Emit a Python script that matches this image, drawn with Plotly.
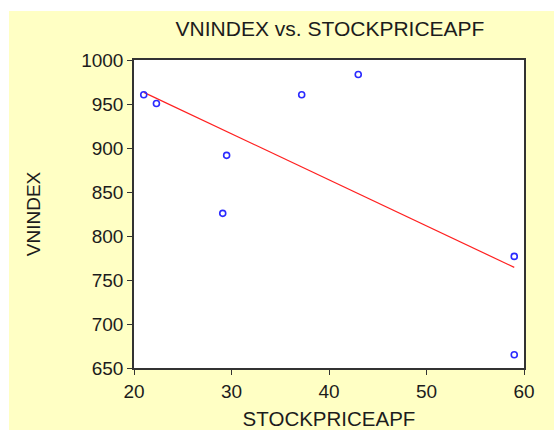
import numpy as np
import plotly.graph_objects as go

# Observations: APF stock price vs. VN-Index
stock_price_apf = [21.0, 22.3, 29.5, 29.1, 37.2, 43.0, 59.0, 59.0]
vnindex = [961, 951, 892, 826, 961, 984, 777, 665]

x_ticks = [20, 30, 40, 50, 60]
y_ticks = [650, 700, 750, 800, 850, 900, 950, 1000]

# Least-squares fit line across the observed x span
slope, intercept = np.polyfit(stock_price_apf, vnindex, 1)
fit_x = [min(stock_price_apf), max(stock_price_apf)]
fit_y = [slope * v + intercept for v in fit_x]

W, H = 554, 430
ML, MR, MT, MB = 134, 30, 60, 62
BG = "#FFFFC4"
INK = "#1c1c1c"
FONT = "Liberation Sans, Arial, sans-serif"

fig = go.Figure()
fig.add_trace(go.Scatter(
    x=fit_x, y=fit_y, mode="lines",
    line=dict(color="#FF2020", width=1.2),
    hoverinfo="skip", showlegend=False,
))
fig.add_trace(go.Scatter(
    x=stock_price_apf, y=vnindex, mode="markers",
    marker=dict(symbol="circle-open", size=6, color="#2A2AFF",
                line=dict(width=1.6, color="#2A2AFF")),
    showlegend=False,
))

# white strips along the top and left edges of the page
pw = W - ML - MR
ph = H - MT - MB
left_px, top_px = 9, 11
x0 = -ML / pw
x_left = (left_px - ML) / pw
y_top = 1 + MT / ph
y_strip = 1 + (MT - top_px) / ph
fig.add_shape(type="rect", xref="paper", yref="paper",
              x0=x0, x1=1 + MR / pw, y0=y_strip, y1=y_top,
              fillcolor="white", line=dict(width=0), layer="above")
fig.add_shape(type="rect", xref="paper", yref="paper",
              x0=x0, x1=x_left, y0=-MB / ph, y1=y_top,
              fillcolor="white", line=dict(width=0), layer="above")

axis_common = dict(
    showgrid=False, zeroline=False, showline=True, mirror=True,
    linecolor="#333333", linewidth=1.5, automargin=False,
    ticks="outside", ticklen=5, tickwidth=1.2, tickcolor="#333333",
    tickfont=dict(family=FONT, size=19, color=INK),
)

fig.update_layout(
    width=W, height=H,
    margin=dict(l=ML, r=MR, t=MT, b=MB, autoexpand=False),
    paper_bgcolor=BG, plot_bgcolor="white",
    font=dict(family=FONT, color=INK),
    title=dict(text="VNINDEX vs. STOCKPRICEAPF", x=330 / W,
               xanchor="center", y=1 - 29 / H, yanchor="middle",
               font=dict(family=FONT, size=21, color=INK)),
    xaxis=dict(range=[20, 60], tickvals=x_ticks,
               title=dict(text="STOCKPRICEAPF", standoff=11,
                          font=dict(family=FONT, size=20.5, color=INK)),
               **axis_common),
    yaxis=dict(range=[650, 1000.5], tickvals=y_ticks,
               title=dict(text="VNINDEX", standoff=36,
                          font=dict(family=FONT, size=19, color=INK)),
               **axis_common),
)

fig.write_html("out.html")
